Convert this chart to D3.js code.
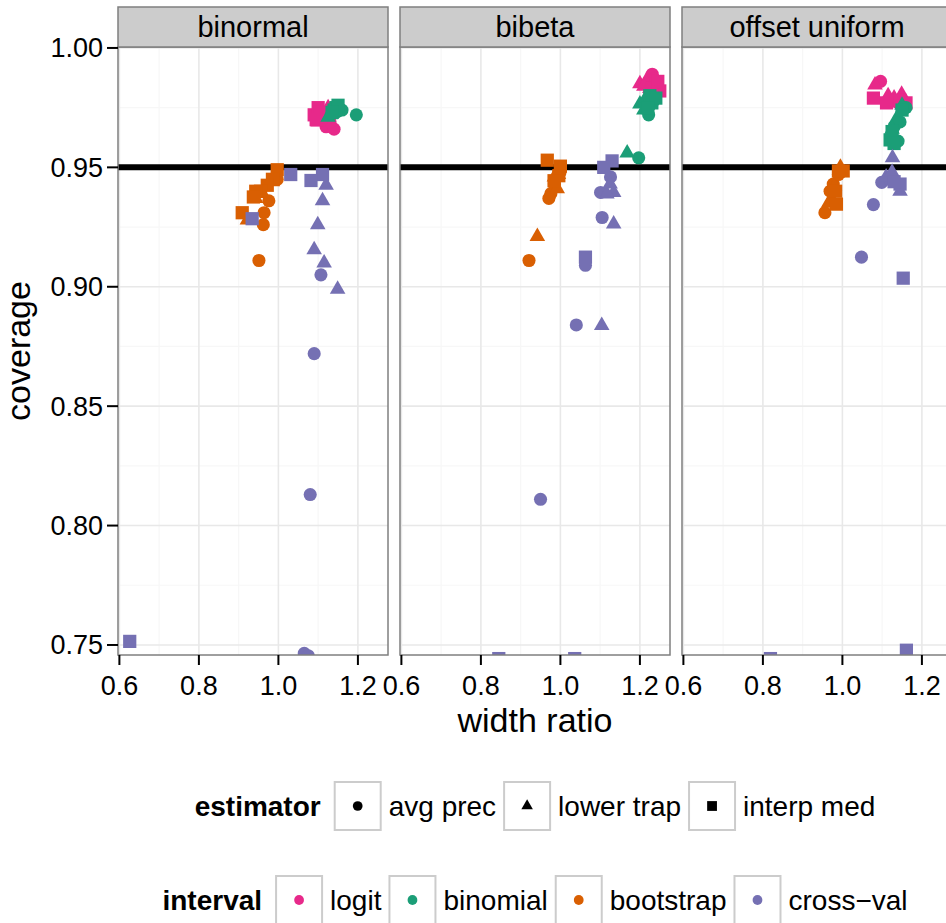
<!DOCTYPE html>
<html>
<head>
<meta charset="utf-8">
<script src="https://cdn.jsdelivr.net/npm/d3@7"></script>
<style>
  body { margin: 0; background: #fff; }
  svg text { font-family: "Liberation Sans", Arial, Helvetica, sans-serif; }
</style>
</head>
<body>
<div id="chart"></div>
<script>
// facets, groups and tick values
const panels = ["binormal", "bibeta", "offset uniform"];
const intervals = ["logit", "binomial", "bootstrap", "cross\u2212val"];
const estimators = ["avg prec", "lower trap", "interp med"];
const xTicks = [0.6, 0.8, 1.0, 1.2];
const yTicks = [0.75, 0.80, 0.85, 0.90, 0.95, 1.00];
const target = 0.95;

// [interval, estimator, width ratio, coverage]
const binormalPts = [
  ["logit","avg prec",1.12,0.967],["logit","avg prec",1.14,0.966],["logit","avg prec",1.13,0.969],["logit","avg prec",1.11,0.970],
  ["logit","lower trap",1.10,0.969],["logit","lower trap",1.12,0.972],["logit","lower trap",1.11,0.971],["logit","lower trap",1.125,0.975],
  ["logit","interp med",1.09,0.972],["logit","interp med",1.10,0.975],["logit","interp med",1.105,0.973],["logit","interp med",1.095,0.970],
  ["binomial","avg prec",1.196,0.972],["binomial","avg prec",1.16,0.974],["binomial","avg prec",1.145,0.973],["binomial","avg prec",1.15,0.975],
  ["binomial","lower trap",1.13,0.972],["binomial","lower trap",1.14,0.973],["binomial","lower trap",1.125,0.971],["binomial","lower trap",1.135,0.974],
  ["binomial","interp med",1.145,0.975],["binomial","interp med",1.14,0.974],["binomial","interp med",1.15,0.976],["binomial","interp med",1.135,0.973],
  ["bootstrap","avg prec",0.997,0.945],["bootstrap","avg prec",0.976,0.936],["bootstrap","avg prec",0.964,0.931],["bootstrap","avg prec",0.962,0.926],["bootstrap","avg prec",0.951,0.911],
  ["bootstrap","lower trap",0.943,0.937],["bootstrap","lower trap",0.922,0.928],["bootstrap","lower trap",0.985,0.944],["bootstrap","lower trap",0.96,0.939],
  ["bootstrap","interp med",0.997,0.949],["bootstrap","interp med",0.985,0.945],["bootstrap","interp med",0.972,0.9425],["bootstrap","interp med",0.955,0.940],
  ["bootstrap","interp med",0.943,0.940],["bootstrap","interp med",0.937,0.9376],["bootstrap","interp med",0.909,0.931],
  ["cross\u2212val","avg prec",1.107,0.905],["cross\u2212val","avg prec",1.09,0.872],["cross\u2212val","avg prec",1.08,0.813],["cross\u2212val","avg prec",1.065,0.7465],["cross\u2212val","avg prec",1.075,0.7455],
  ["cross\u2212val","lower trap",1.12,0.9425],["cross\u2212val","lower trap",1.111,0.936],["cross\u2212val","lower trap",1.099,0.926],["cross\u2212val","lower trap",1.09,0.9155],
  ["cross\u2212val","lower trap",1.115,0.910],["cross\u2212val","lower trap",1.149,0.899],
  ["cross\u2212val","interp med",1.031,0.947],["cross\u2212val","interp med",1.111,0.947],["cross\u2212val","interp med",1.082,0.9445],["cross\u2212val","interp med",0.934,0.9285],["cross\u2212val","interp med",0.626,0.7515]
];

const bibetaPts = [
  ["logit","avg prec",1.231,0.989],["logit","avg prec",1.235,0.987],["logit","avg prec",1.225,0.985],["logit","avg prec",1.24,0.984],
  ["logit","lower trap",1.20,0.985],["logit","lower trap",1.215,0.986],["logit","lower trap",1.225,0.983],["logit","lower trap",1.21,0.984],
  ["logit","interp med",1.25,0.982],["logit","interp med",1.24,0.985],["logit","interp med",1.23,0.983],["logit","interp med",1.245,0.986],
  ["binomial","avg prec",1.222,0.972],["binomial","avg prec",1.197,0.954],["binomial","avg prec",1.225,0.976],["binomial","avg prec",1.235,0.978],
  ["binomial","lower trap",1.168,0.956],["binomial","lower trap",1.20,0.9765],["binomial","lower trap",1.215,0.979],["binomial","lower trap",1.21,0.974],
  ["binomial","interp med",1.225,0.980],["binomial","interp med",1.23,0.977],["binomial","interp med",1.24,0.979],["binomial","interp med",1.22,0.975],
  ["bootstrap","avg prec",0.976,0.939],["bootstrap","avg prec",0.971,0.937],["bootstrap","avg prec",0.999,0.948],["bootstrap","avg prec",0.921,0.911],["bootstrap","avg prec",0.985,0.943],
  ["bootstrap","lower trap",0.992,0.941],["bootstrap","lower trap",0.942,0.921],["bootstrap","lower trap",0.995,0.947],["bootstrap","lower trap",0.985,0.946],
  ["bootstrap","interp med",0.967,0.953],["bootstrap","interp med",1.0,0.9505],["bootstrap","interp med",0.996,0.9465],["bootstrap","interp med",0.984,0.9444],
  ["cross\u2212val","avg prec",1.126,0.946],["cross\u2212val","avg prec",1.101,0.9395],["cross\u2212val","avg prec",1.105,0.929],["cross\u2212val","avg prec",1.063,0.909],
  ["cross\u2212val","avg prec",1.04,0.884],["cross\u2212val","avg prec",0.95,0.811],
  ["cross\u2212val","lower trap",1.134,0.9395],["cross\u2212val","lower trap",1.117,0.9388],["cross\u2212val","lower trap",1.134,0.9263],["cross\u2212val","lower trap",1.104,0.8838],["cross\u2212val","lower trap",1.125,0.943],
  ["cross\u2212val","interp med",1.13,0.9527],["cross\u2212val","interp med",1.109,0.950],["cross\u2212val","interp med",1.063,0.9124],["cross\u2212val","interp med",0.845,0.7443],["cross\u2212val","interp med",1.036,0.7443]
];

const offsetPts = [
  ["logit","avg prec",1.096,0.986],["logit","avg prec",1.12,0.978],["logit","avg prec",1.14,0.977],["logit","avg prec",1.155,0.976],
  ["logit","lower trap",1.082,0.9845],["logit","lower trap",1.115,0.980],["logit","lower trap",1.149,0.9806],["logit","lower trap",1.13,0.979],
  ["logit","interp med",1.078,0.979],["logit","interp med",1.111,0.977],["logit","interp med",1.145,0.978],["logit","interp med",1.16,0.977],
  ["binomial","avg prec",1.14,0.961],["binomial","avg prec",1.13,0.967],["binomial","avg prec",1.145,0.969],["binomial","avg prec",1.16,0.975],
  ["binomial","lower trap",1.13,0.962],["binomial","lower trap",1.135,0.970],["binomial","lower trap",1.15,0.976],["binomial","lower trap",1.125,0.966],
  ["binomial","interp med",1.12,0.9615],["binomial","interp med",1.125,0.965],["binomial","interp med",1.15,0.974],["binomial","interp med",1.13,0.960],
  ["bootstrap","avg prec",0.956,0.931],["bootstrap","avg prec",0.969,0.940],["bootstrap","avg prec",0.977,0.943],["bootstrap","avg prec",0.99,0.947],
  ["bootstrap","lower trap",0.995,0.950],["bootstrap","lower trap",0.973,0.9367],["bootstrap","lower trap",0.965,0.935],["bootstrap","lower trap",0.98,0.942],
  ["bootstrap","interp med",1.002,0.9485],["bootstrap","interp med",0.99,0.9485],["bootstrap","interp med",0.985,0.9346],["bootstrap","interp med",0.983,0.940],
  ["cross\u2212val","avg prec",1.099,0.9437],["cross\u2212val","avg prec",1.078,0.9344],["cross\u2212val","avg prec",1.048,0.9124],["cross\u2212val","avg prec",1.12,0.945],
  ["cross\u2212val","lower trap",1.126,0.954],["cross\u2212val","lower trap",1.145,0.940],["cross\u2212val","lower trap",1.11,0.946],["cross\u2212val","lower trap",1.125,0.948],
  ["cross\u2212val","interp med",1.145,0.943],["cross\u2212val","interp med",1.153,0.9036],["cross\u2212val","interp med",0.819,0.7443],["cross\u2212val","interp med",1.161,0.7478],["cross\u2212val","interp med",1.13,0.944]
];

const panelData = [binormalPts, bibetaPts, offsetPts];

const width = 946, height = 923;
const panelLeft = [118, 400, 682], panelW = 270;
const stripTop = 7, panelTop = 47, panelBottom = 655;

const color = d3.scaleOrdinal().domain(intervals).range(["#E7298A", "#1B9E77", "#D95F02", "#7570B3"]);
const shape = d3.scaleOrdinal().domain(estimators).range([d3.symbolCircle, d3.symbolTriangle, d3.symbolSquare]);
const symSize = d3.scaleOrdinal().domain(estimators).range([135, 105, 175]);

const x = d3.scaleLinear().domain([0.5965, 1.2757]).range([0, panelW]);
const y = d3.scaleLinear().domain([0.7458, 1.0004]).range([panelBottom, panelTop]);

const svg = d3.select("#chart").append("svg")
  .attr("width", width)
  .attr("height", height);

panels.forEach((name, i) => {
  const g = svg.append("g").attr("transform", "translate(" + panelLeft[i] + ",0)");

  g.append("clipPath").attr("id", "clip" + i)
    .append("rect").attr("x", 0).attr("y", panelTop).attr("width", panelW).attr("height", panelBottom - panelTop);

  // minor grid
  const xMinor = [0.7, 0.9, 1.1];
  const yMinor = [0.775, 0.825, 0.875, 0.925, 0.975];
  g.selectAll(".xminor").data(xMinor).enter().append("line")
    .attr("x1", d => x(d)).attr("x2", d => x(d))
    .attr("y1", panelTop).attr("y2", panelBottom)
    .attr("stroke", "#F7F7F7").attr("stroke-width", 1.2);
  g.selectAll(".yminor").data(yMinor).enter().append("line")
    .attr("x1", 0).attr("x2", panelW)
    .attr("y1", d => y(d)).attr("y2", d => y(d))
    .attr("stroke", "#F7F7F7").attr("stroke-width", 1.2);

  // major grid
  g.selectAll(".xmajor").data(xTicks).enter().append("line")
    .attr("x1", d => x(d)).attr("x2", d => x(d))
    .attr("y1", panelTop).attr("y2", panelBottom)
    .attr("stroke", "#E8E8E8").attr("stroke-width", 1.6);
  g.selectAll(".ymajor").data(yTicks).enter().append("line")
    .attr("x1", 0).attr("x2", panelW)
    .attr("y1", d => y(d)).attr("y2", d => y(d))
    .attr("stroke", "#E8E8E8").attr("stroke-width", 1.6);

  const plot = g.append("g").attr("clip-path", "url(#clip" + i + ")");

  // reference line at nominal coverage
  plot.append("line")
    .attr("x1", 0).attr("x2", panelW)
    .attr("y1", y(target)).attr("y2", y(target))
    .attr("stroke", "black").attr("stroke-width", 6);

  plot.selectAll(".pt").data(panelData[i]).enter().append("path")
    .attr("transform", d => "translate(" + x(d[2]) + "," + y(d[3]) + ")")
    .attr("d", d => d3.symbol().type(shape(d[1])).size(symSize(d[1]))())
    .attr("fill", d => color(d[0]));

  // panel border
  g.append("rect")
    .attr("x", 0).attr("y", panelTop).attr("width", panelW).attr("height", panelBottom - panelTop)
    .attr("fill", "none").attr("stroke", "#7F7F7F").attr("stroke-width", 1.5);

  // strip
  g.append("rect")
    .attr("x", 0).attr("y", stripTop).attr("width", panelW).attr("height", panelTop - stripTop)
    .attr("fill", "#CCCCCC").attr("stroke", "#7F7F7F").attr("stroke-width", 1.5);
  g.append("text")
    .attr("x", panelW / 2).attr("y", (stripTop + panelTop) / 2)
    .attr("dy", "0.35em")
    .attr("text-anchor", "middle")
    .style("font-size", "29px")
    .text(name);

  // x axis
  g.selectAll(".xtick").data(xTicks).enter().append("line")
    .attr("x1", d => x(d)).attr("x2", d => x(d))
    .attr("y1", panelBottom).attr("y2", panelBottom + 10)
    .attr("stroke", "black").attr("stroke-width", 2);
  g.selectAll(".xlab").data(xTicks).enter().append("text")
    .attr("x", d => x(d)).attr("y", 695)
    .attr("text-anchor", "middle")
    .style("font-size", "27px")
    .text(d => d3.format(".1f")(d));
});

// y axis (left panel only)
svg.selectAll(".ytick").data(yTicks).enter().append("line")
  .attr("x1", panelLeft[0] - 11).attr("x2", panelLeft[0])
  .attr("y1", d => y(d)).attr("y2", d => y(d))
  .attr("stroke", "black").attr("stroke-width", 2);
svg.selectAll(".ylab").data(yTicks).enter().append("text")
  .attr("x", panelLeft[0] - 15).attr("y", d => y(d))
  .attr("dy", "0.35em")
  .attr("text-anchor", "end")
  .style("font-size", "27px")
  .text(d => d3.format(".2f")(d));

// axis titles
const midX = (panelLeft[0] + panelLeft[2] + panelW) / 2;
svg.append("text")
  .attr("x", midX).attr("y", 732)
  .attr("text-anchor", "middle")
  .style("font-size", "34px")
  .text("width ratio");
svg.append("text")
  .attr("transform", "translate(30," + (panelTop + panelBottom) / 2 + ") rotate(-90)")
  .attr("text-anchor", "middle")
  .style("font-size", "34px")
  .text("coverage");

// legends, each row centred under the panels
const keyW = 46, keyH = 48;
function legendRow(title, items, cy, drawKey) {
  const row = svg.append("g");
  let cx = 0;
  const t = row.append("text")
    .attr("x", cx).attr("y", cy).attr("dy", "0.35em")
    .style("font-size", "28px").style("font-weight", "bold")
    .text(title);
  cx += t.node().getComputedTextLength() + 14;
  items.forEach((d, k) => {
    row.append("rect")
      .attr("x", cx).attr("y", cy - keyH / 2).attr("width", keyW).attr("height", keyH)
      .attr("fill", "white").attr("stroke", "#CCCCCC").attr("stroke-width", 2);
    drawKey(row, d, cx + keyW / 2, cy);
    cx += keyW + 8;
    const lab = row.append("text")
      .attr("x", cx).attr("y", cy).attr("dy", "0.35em")
      .style("font-size", "28px")
      .text(d);
    cx += lab.node().getComputedTextLength();
    if (k < items.length - 1) cx += 8;
  });
  row.attr("transform", "translate(" + (midX - cx / 2) + ",0)");
}

legendRow("estimator", estimators, 806, (row, d, kx, ky) => {
  row.append("path")
    .attr("transform", "translate(" + kx + "," + ky + ")")
    .attr("d", d3.symbol().type(shape(d)).size(symSize(d) * 0.55)())
    .attr("fill", "black");
});
legendRow("interval", intervals, 900, (row, d, kx, ky) => {
  row.append("path")
    .attr("transform", "translate(" + kx + "," + ky + ")")
    .attr("d", d3.symbol().type(d3.symbolCircle).size(75)())
    .attr("fill", color(d));
});
</script>
</body>
</html>
